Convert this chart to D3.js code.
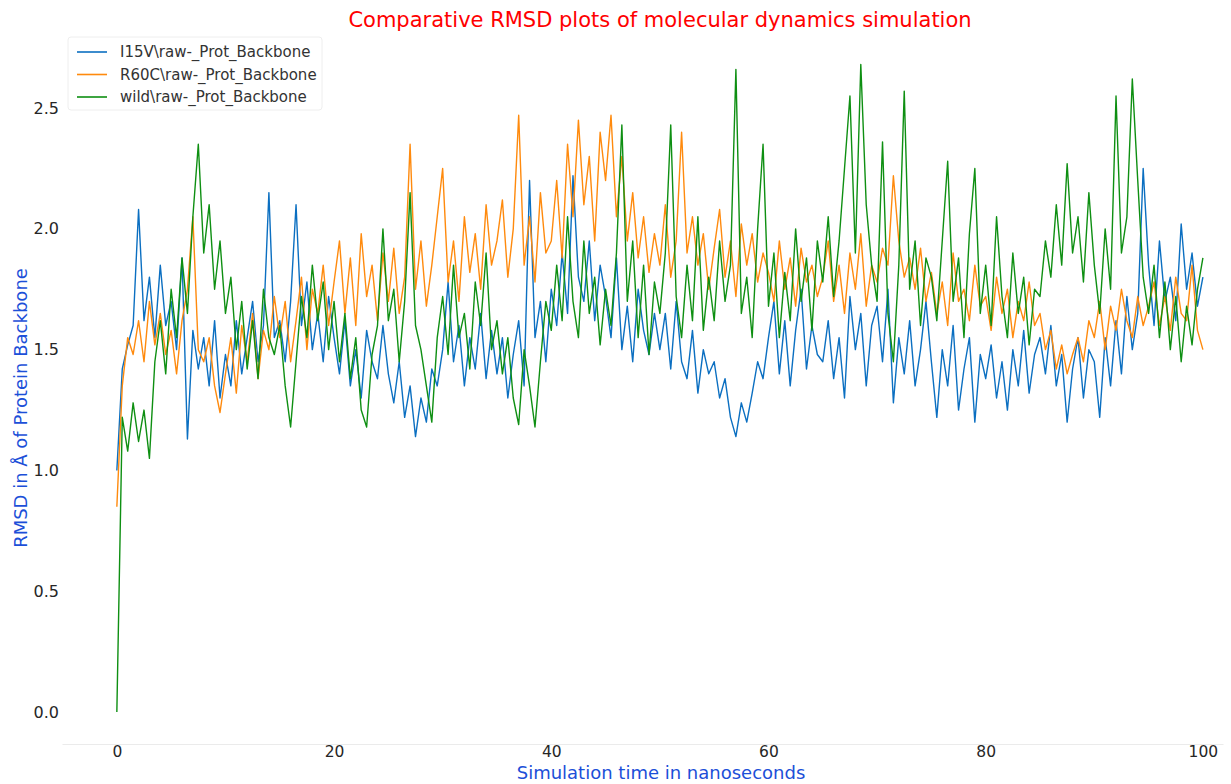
<!DOCTYPE html>
<html>
<head>
<meta charset="utf-8">
<script src="https://cdn.jsdelivr.net/npm/d3@7"></script>
<style>
  body { margin: 0; background: #fff; }
  text { font-family: "DejaVu Sans", sans-serif; }
</style>
</head>
<body>
<svg id="chart" width="1231" height="784"></svg>
<script>
const timeNs = d3.range(0, 100.5, 0.5);

const i15v = [
  1.00,1.42,1.52,1.60,2.08,1.62,1.80,1.55,1.85,1.60,
  1.70,1.50,1.88,1.13,1.58,1.42,1.55,1.35,1.62,1.30,
  1.48,1.35,1.62,1.40,1.55,1.70,1.45,1.60,2.15,1.55,
  1.62,1.45,1.70,2.10,1.60,1.78,1.50,1.65,1.45,1.72,
  1.55,1.40,1.62,1.35,1.50,1.30,1.58,1.45,1.38,1.60,
  1.40,1.28,1.45,1.22,1.35,1.14,1.30,1.20,1.42,1.35,
  1.50,1.78,1.45,1.60,1.35,1.55,1.42,1.65,1.38,1.58,
  1.40,1.55,1.30,1.48,1.62,1.35,2.20,1.55,1.70,1.45,
  1.75,1.60,1.90,1.65,2.22,1.80,1.70,1.95,1.62,1.85,
  1.72,1.55,1.88,1.50,1.68,1.45,1.75,1.58,1.48,1.65,
  1.50,1.65,1.42,1.70,1.45,1.38,1.58,1.32,1.50,1.40,
  1.45,1.30,1.38,1.22,1.14,1.28,1.20,1.32,1.45,1.38,
  1.55,1.70,1.40,1.62,1.35,1.58,1.75,1.42,1.60,1.48,
  1.45,1.62,1.38,1.55,1.30,1.72,1.50,1.65,1.35,1.60,
  1.68,1.45,1.75,1.28,1.55,1.40,1.62,1.35,1.50,1.70,
  1.45,1.22,1.50,1.35,1.60,1.25,1.42,1.55,1.20,1.48,
  1.38,1.52,1.30,1.45,1.25,1.50,1.35,1.58,1.32,1.48,
  1.55,1.40,1.60,1.35,1.48,1.20,1.42,1.55,1.30,1.50,
  1.45,1.22,1.55,1.35,1.62,1.40,1.72,1.50,1.65,2.25,
  1.85,1.60,1.95,1.70,1.80,1.62,2.02,1.75,1.90,1.68,
  1.80
];

const r60c = [
  0.85,1.35,1.55,1.48,1.62,1.45,1.70,1.52,1.65,1.48,
  1.58,1.40,1.62,1.75,2.05,1.50,1.45,1.55,1.35,1.24,
  1.40,1.55,1.32,1.60,1.45,1.65,1.38,1.58,1.50,1.72,
  1.55,1.70,1.45,1.62,1.80,1.50,1.75,1.65,1.85,1.60,
  1.78,1.95,1.65,1.88,1.60,1.98,1.72,1.85,1.62,1.90,
  1.70,1.92,1.65,1.80,2.35,1.75,1.95,1.68,1.85,2.05,
  2.25,1.78,1.95,1.70,2.05,1.82,1.98,1.75,2.10,1.85,
  1.95,2.12,1.80,2.00,2.47,1.85,2.05,1.78,2.15,1.90,
  1.95,2.20,1.88,2.35,2.05,2.45,2.10,2.30,1.95,2.40,
  2.20,2.47,2.05,2.30,1.95,2.15,1.88,2.05,1.82,1.98,
  1.85,2.10,1.80,1.95,2.40,1.90,2.05,1.85,1.98,1.75,
  1.92,2.08,1.80,1.95,1.72,2.02,1.85,1.98,1.78,1.90,
  1.82,1.70,1.95,1.75,1.88,1.68,1.92,1.78,1.85,1.72,
  1.80,1.95,1.70,1.85,1.65,1.90,1.75,1.98,1.68,1.85,
  1.78,1.92,1.85,2.22,1.95,1.80,1.88,1.75,1.92,1.70,
  1.82,1.65,1.78,1.60,1.90,1.70,1.75,1.62,1.85,1.68,
  1.72,1.58,1.80,1.65,1.75,1.55,1.70,1.62,1.78,1.60,
  1.65,1.50,1.58,1.42,1.52,1.40,1.48,1.55,1.45,1.62,
  1.55,1.70,1.50,1.68,1.58,1.75,1.62,1.55,1.72,1.60,
  1.68,1.78,1.60,1.72,1.58,1.80,1.65,1.62,1.85,1.58,
  1.50
];

const wild = [
  0.00,1.22,1.08,1.28,1.12,1.25,1.05,1.45,1.62,1.40,
  1.75,1.55,1.88,1.65,2.05,2.35,1.90,2.10,1.75,1.95,
  1.65,1.80,1.50,1.70,1.42,1.62,1.38,1.75,1.55,1.48,
  1.60,1.35,1.18,1.45,1.72,1.55,1.85,1.62,1.78,1.50,
  1.70,1.45,1.65,1.38,1.55,1.25,1.18,1.48,1.60,2.00,
  1.62,1.75,1.45,1.70,2.15,1.60,1.50,1.35,1.20,1.55,
  1.72,1.48,1.85,1.55,1.65,1.42,1.78,1.60,1.90,1.50,
  1.62,1.40,1.55,1.30,1.19,1.50,1.35,1.18,1.45,1.70,
  1.58,1.85,1.62,2.05,1.70,1.55,1.95,1.65,1.80,1.52,
  1.75,1.60,1.90,2.43,1.70,1.95,1.55,1.85,1.48,1.78,
  1.65,1.90,2.43,1.72,1.55,1.85,1.62,2.05,1.58,1.80,
  1.62,1.95,1.70,1.85,2.66,1.65,1.80,1.55,2.00,2.35,
  1.68,1.90,1.55,1.82,1.62,2.00,1.70,1.88,1.58,1.95,
  1.78,2.05,1.72,1.95,2.25,2.55,1.90,2.68,2.10,1.85,
  1.70,2.36,1.65,1.45,1.85,2.57,1.75,1.95,1.60,1.88,
  1.80,1.62,1.95,2.28,1.70,1.88,1.55,1.98,2.25,1.65,
  1.85,1.60,2.05,1.72,1.55,1.90,1.65,1.80,1.52,1.75,
  1.72,1.95,1.80,2.10,1.85,2.27,1.90,2.05,1.78,2.15,
  1.85,1.65,2.00,1.75,2.55,1.90,2.05,2.62,2.20,1.80,
  1.65,1.85,1.55,1.78,1.50,1.72,1.45,1.68,1.52,1.75,
  1.88
];

const seriesNames = ["I15V\\raw-_Prot_Backbone", "R60C\\raw-_Prot_Backbone", "wild\\raw-_Prot_Backbone"];
const seriesColors = ["#0b6fc1", "#ff8a0d", "#0e8f12"];
const xTicks = [0, 20, 40, 60, 80, 100];
const yTicks = [0.0, 0.5, 1.0, 1.5, 2.0, 2.5];

const svg = d3.select("#chart");

const margin = { top: 30, right: 8, bottom: 40, left: 62 };
const width = 1231 - margin.left - margin.right;
const height = 784 - margin.top - margin.bottom;

const x = d3.scaleLinear().domain([-5.05, 101.85]).range([margin.left, margin.left + width]);
const y = d3.scaleLinear().domain([-0.132, 2.823]).range([margin.top + height, margin.top]);

// bottom axis (faint spine, no tick marks)
const xAxis = svg.append("g")
    .attr("transform", `translate(0, ${margin.top + height})`)
    .call(d3.axisBottom(x).tickValues(xTicks).tickFormat(d3.format("d")).tickSize(0).tickSizeOuter(0).tickPadding(2));
xAxis.select(".domain").attr("stroke", "#ebebeb").attr("stroke-width", 1);
xAxis.selectAll("text").attr("font-size", 15.5).attr("fill", "#262626");

const yAxis = svg.append("g")
    .attr("transform", `translate(${margin.left}, 0)`)
    .call(d3.axisLeft(y).tickValues(yTicks).tickFormat(d3.format(".1f")).tickSize(0).tickPadding(3));
yAxis.select(".domain").remove();
yAxis.selectAll("text").attr("font-size", 16).attr("fill", "#262626");

// traces, drawn in legend order so the wild type ends on top
const line = d3.line()
    .x((d, i) => x(timeNs[i]))
    .y(d => y(d));

svg.selectAll(".trace")
    .data([i15v, r60c, wild])
    .join("path")
    .attr("class", "trace")
    .attr("d", line)
    .attr("fill", "none")
    .attr("stroke", (d, i) => seriesColors[i])
    .attr("stroke-width", 1.4)
    .attr("stroke-linejoin", "round");

// title and axis labels
svg.append("text")
    .attr("x", 660)
    .attr("y", 27)
    .attr("text-anchor", "middle")
    .attr("font-size", 21)
    .attr("fill", "#ff0000")
    .text("Comparative RMSD plots of molecular dynamics simulation");

svg.append("text")
    .attr("x", 661)
    .attr("y", 779)
    .attr("text-anchor", "middle")
    .attr("font-size", 18)
    .attr("fill", "#1c4fd8")
    .text("Simulation time in nanoseconds");

svg.append("text")
    .attr("transform", "translate(27, 408) rotate(-90)")
    .attr("text-anchor", "middle")
    .attr("font-size", 18)
    .attr("fill", "#1c4fd8")
    .text("RMSD in Å of Protein Backbone");

// legend
const legend = svg.append("g").attr("transform", "translate(68, 37)");

legend.append("rect")
    .attr("width", 254)
    .attr("height", 73)
    .attr("rx", 3)
    .attr("fill", "#fff")
    .attr("fill-opacity", 0.8)
    .attr("stroke", "#eeeeee");

const legendRow = legend.selectAll(".legend-row")
    .data(seriesNames)
    .join("g")
    .attr("class", "legend-row")
    .attr("transform", (d, i) => `translate(0, ${15 + i * 22.5})`);

legendRow.append("line")
    .attr("x1", 9)
    .attr("x2", 39)
    .attr("stroke", (d, i) => seriesColors[i])
    .attr("stroke-width", 1.6);

legendRow.append("text")
    .attr("x", 52)
    .attr("dy", "0.35em")
    .attr("font-size", 15)
    .attr("fill", "#333333")
    .text(d => d);
</script>
</body>
</html>
